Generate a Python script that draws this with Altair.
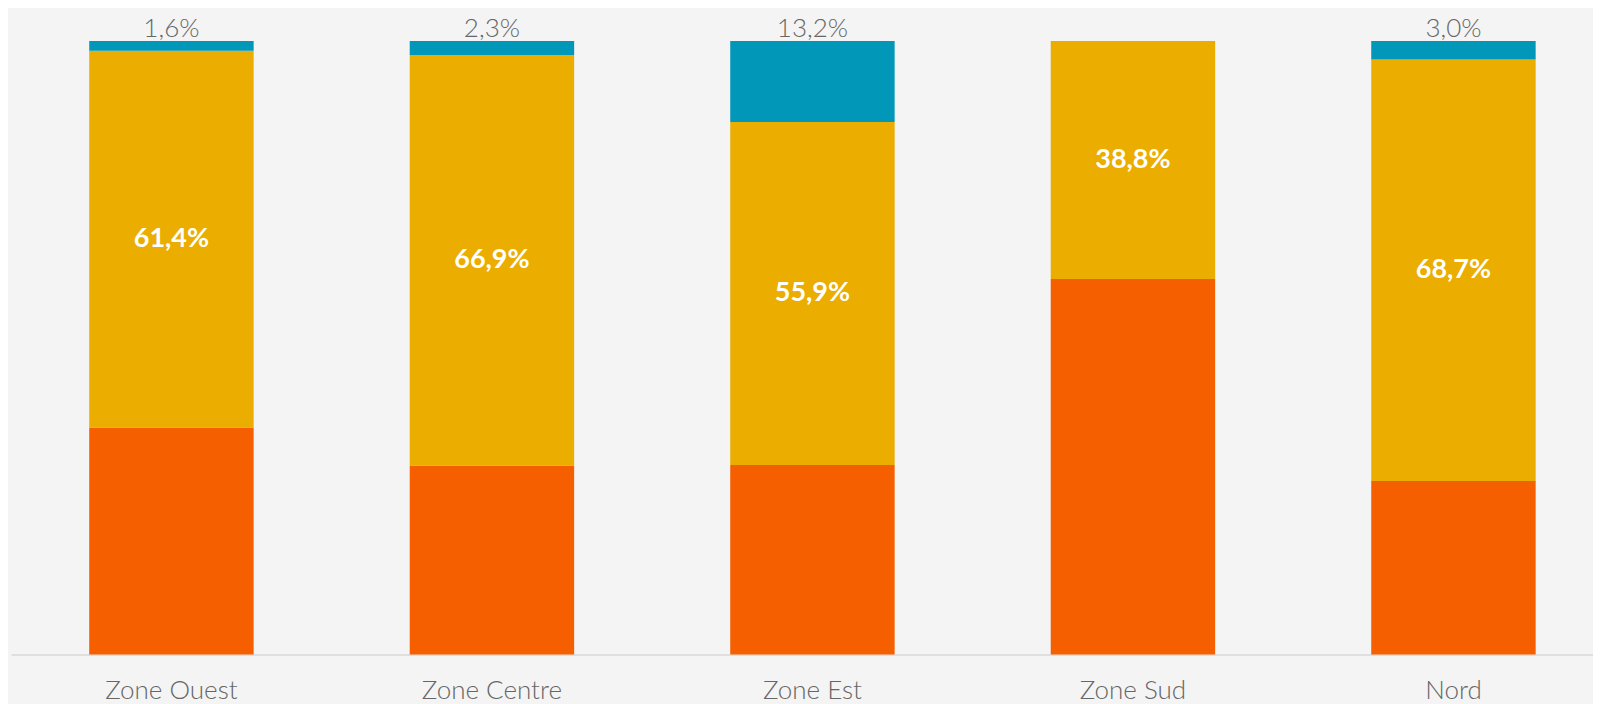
import altair as alt
import pandas as pd

categories = ["Zone Ouest", "Zone Centre", "Zone Est", "Zone Sud", "Nord"]
series_names = ["Série 1", "Série 2", "Série 3"]  # bottom (orange), middle (yellow), top (blue)
orange_vals = [37.0, 30.8, 30.9, 61.2, 28.3]
yellow_vals = [61.4, 66.9, 55.9, 38.8, 68.7]
blue_vals = [1.6, 2.3, 13.2, 0.0, 3.0]
colors = ["#f55f00", "#eaad00", "#0097b9"]

rows = []
for i, c in enumerate(categories):
    start = 0.0
    for s, vals in zip(series_names, [orange_vals, yellow_vals, blue_vals]):
        v = vals[i]
        rows.append({"cat": c, "serie": s, "value": v, "start": start, "end": start + v,
                     "mid": start + v / 2,
                     "label": (f"{v:.1f}".replace(".", ",") + "%") if v > 0 else ""})
        start += v
df = pd.DataFrame(rows)

FONT = "Lato"
xscale = alt.Scale(domain=categories, paddingInner=0.487, paddingOuter=0.2115, align=0.577)
yscale = alt.Scale(domain=[0, 100], nice=False, zero=True)

base = alt.Chart(df)

bars = base.mark_bar(stroke=None).encode(
    x=alt.X("cat:N", scale=xscale, sort=categories,
            axis=alt.Axis(title=None, labelAngle=0, ticks=False, tickSize=0, grid=False,
                          domainColor="#d9d9d9", domainWidth=1.5,
                          labelFont=FONT, labelFontSize=26, labelFontWeight=300,
                          labelColor="#666666",
                          labelBaseline="alphabetic", labelPadding=44)),
    y=alt.Y("start:Q", scale=yscale, axis=None),
    y2="end:Q",
    color=alt.Color("serie:N", scale=alt.Scale(domain=series_names, range=colors), legend=None),
)

mid_labels = base.transform_filter(alt.datum.serie == "Série 2").mark_text(
    font=FONT, fontSize=27, fontWeight="bold", color="white", baseline="middle", align="center"
).encode(
    x=alt.X("cat:N", scale=xscale, sort=categories),
    y=alt.Y("mid:Q", scale=yscale),
    text="label:N",
)

top_labels = base.transform_filter(alt.datum.serie == "Série 3").mark_text(
    font=FONT, fontSize=26, fontWeight=300, color="#666666", baseline="alphabetic",
    align="center", dy=-4
).encode(
    x=alt.X("cat:N", scale=xscale, sort=categories),
    y=alt.Y("end:Q", scale=yscale),
    text="label:N",
)

chart = alt.layer(bars, mid_labels, top_labels).properties(
    width=1582, height=613.5,
    autosize=alt.AutoSizeParams(type="none"),
    padding={"left": 3, "right": 0, "top": 33, "bottom": 50},
    background="#f4f4f4",
).configure_view(stroke=None)

chart.save("out.html", embed_options={"renderer": "svg", "actions": False})
